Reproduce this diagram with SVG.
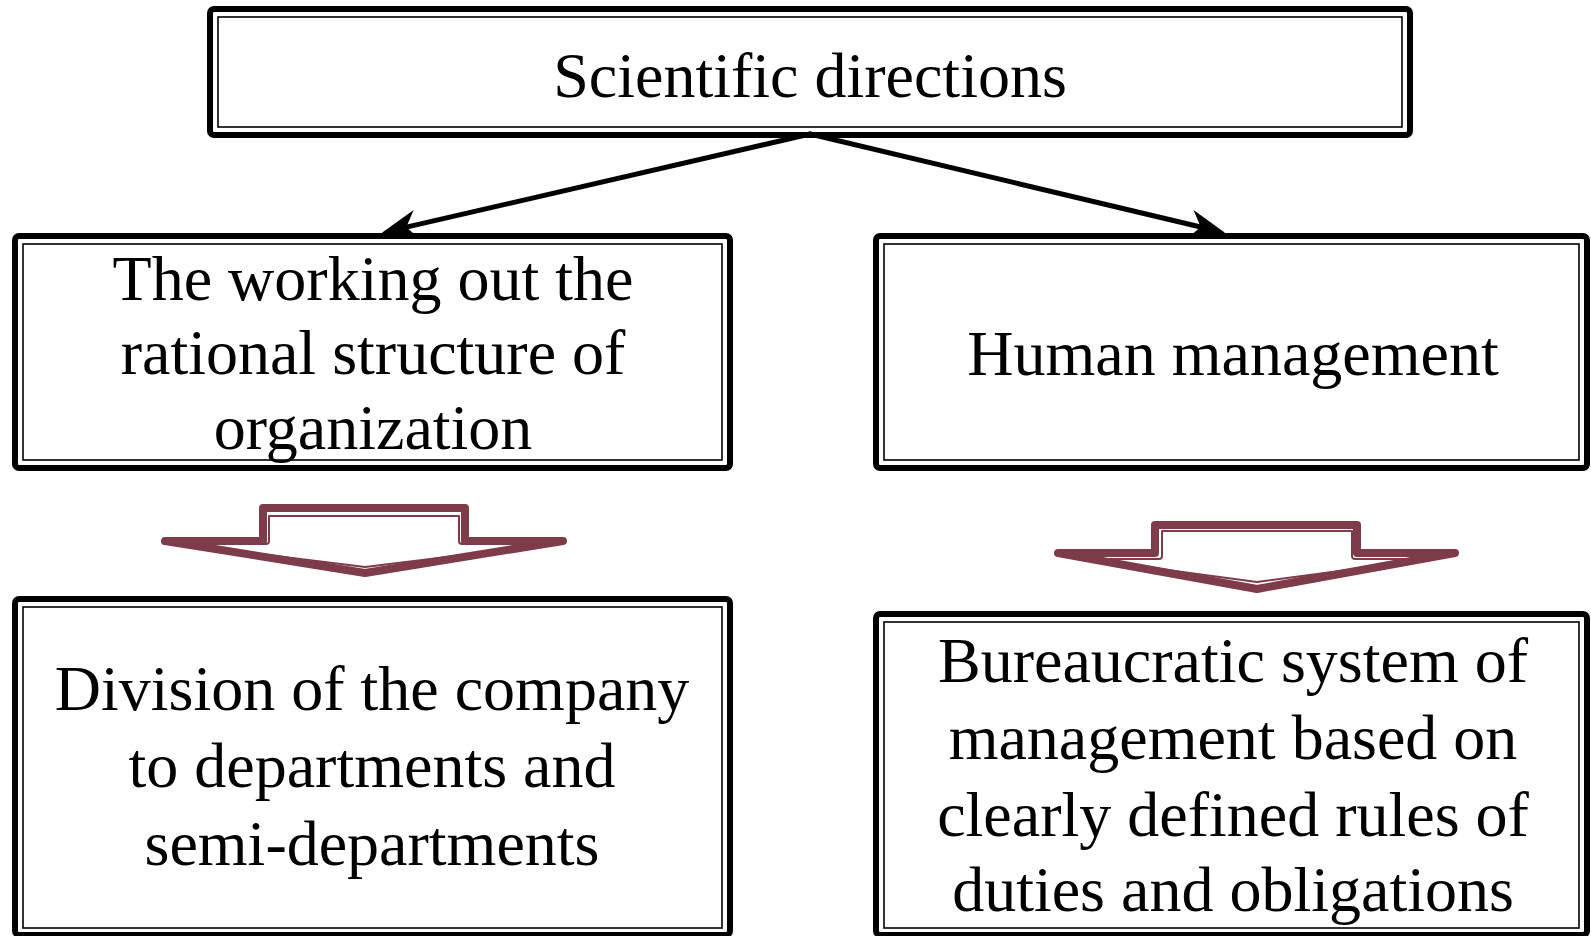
<svg xmlns="http://www.w3.org/2000/svg" width="1591" height="936" viewBox="0 0 1591 936">
<style>
.outer{fill:#fff;stroke:#000;stroke-width:6;}
.inner{fill:none;stroke:#000;stroke-width:1.6;}
.txt{font-family:"Liberation Serif","Times New Roman",serif;font-size:64px;fill:#000;text-anchor:middle;}
.conn{stroke:#000;stroke-width:5;fill:none;stroke-linecap:round;}
.barrow{fill:none;stroke:#7e3b4a;stroke-width:8;stroke-linejoin:round;stroke-linecap:round;}
.barrow-in{fill:none;stroke:#7e3b4a;stroke-width:2;stroke-linejoin:round;}
</style>
<defs>
<marker id="head" markerUnits="userSpaceOnUse" viewBox="-40 -18 42 36" markerWidth="42" markerHeight="36" refX="-24" refY="0" orient="auto">
<path d="M0,0 L-36,-15 L-25,0 L-36,15 Z" fill="#000"/>
</marker>
</defs>
<rect width="1591" height="936" fill="#fff"/>

<g id="node-top">
<rect class="outer" x="210" y="9" width="1200" height="126" rx="4"/>
<rect class="inner" x="218" y="17" width="1184" height="110"/>
<text class="txt" x="810" y="97">Scientific directions</text>
</g>

<g id="node-left-mid">
<rect class="outer" x="15" y="236" width="715" height="232" rx="4"/>
<rect class="inner" x="23" y="244" width="699" height="216"/>
<text class="txt" x="373" y="300">The working out the</text>
<text class="txt" x="373" y="374">rational structure of</text>
<text class="txt" x="373" y="449">organization</text>
</g>

<g id="node-right-mid">
<rect class="outer" x="876" y="236" width="711" height="232" rx="4"/>
<rect class="inner" x="884" y="244" width="695" height="216"/>
<text class="txt" x="1233" y="375">Human management</text>
</g>

<g id="connectors">
<line class="conn" x1="810" y1="134" x2="405.3" y2="227.4" marker-end="url(#head)"/>
<line class="conn" x1="810" y1="134" x2="1201.7" y2="227.3" marker-end="url(#head)"/>
</g>

<g id="arrow-left">
<path class="barrow" d="M165,541 H263 V508 H465 V541 H563 L365,573 Z"/>
<path class="barrow-in" d="M213,544 H266 Q269,544 269,541 V516 H459 V541 Q459,544 462,544 H515"/>
<path class="barrow-in" d="M186,545 L365,567 L545,545"/>
</g>

<g id="arrow-right">
<path class="barrow" d="M1058,553 H1155 V525 H1357 V553 H1455 L1257,589 Z"/>
<path class="barrow-in" d="M1107,559 H1159 Q1162,559 1162,556 V531 H1352 V556 Q1352,559 1355,559 H1407"/>
<path class="barrow-in" d="M1078,558 L1257,582 L1437,558"/>
</g>

<g id="node-left-bottom">
<rect class="outer" x="15" y="599" width="715" height="336" rx="4"/>
<rect class="inner" x="23" y="607" width="699" height="321"/>
<text class="txt" x="372" y="710">Division of the company</text>
<text class="txt" x="372" y="787">to departments and</text>
<text class="txt" x="372" y="865">semi-departments</text>
</g>

<g id="node-right-bottom">
<rect class="outer" x="876" y="614" width="711" height="321" rx="4"/>
<rect class="inner" x="884" y="622" width="695" height="306"/>
<text class="txt" x="1233" y="682">Bureaucratic system of</text>
<text class="txt" x="1233" y="759">management based on</text>
<text class="txt" x="1233" y="836">clearly defined rules of</text>
<text class="txt" x="1233" y="911">duties and obligations</text>
</g>
</svg>
